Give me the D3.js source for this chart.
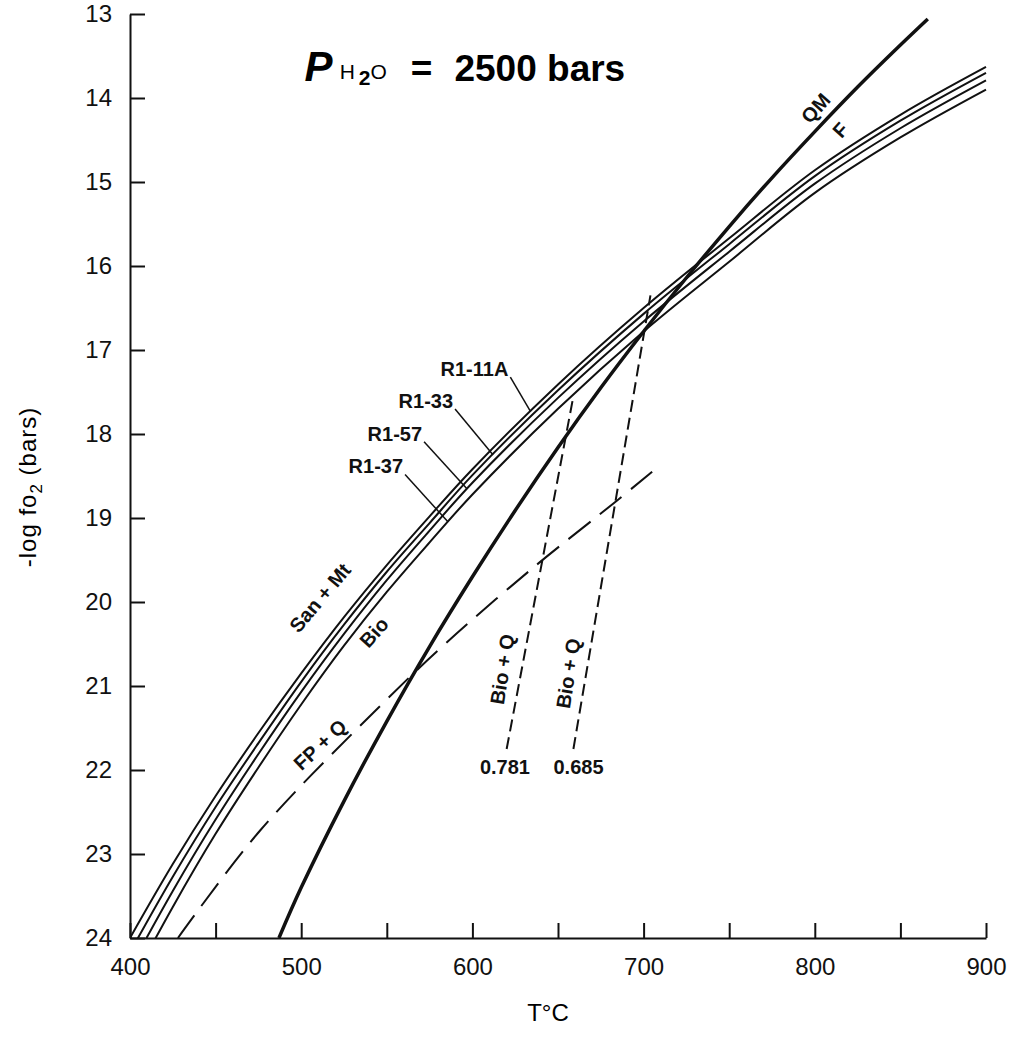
<!DOCTYPE html>
<html>
<head>
<meta charset="utf-8">
<script src="https://cdn.jsdelivr.net/npm/d3@7"></script>
<style>
  body { margin: 0; background: #fff; }
  svg { display: block; font-family: "Liberation Sans", Arial, sans-serif; }
  .axis path, .axis line { stroke: #111; stroke-width: 2; }
  .axis text { font-size: 24px; fill: #111; }
  .lbl { font-size: 20px; font-weight: bold; fill: #111; }
</style>
</head>
<body>
<svg width="1014" height="1039"></svg>
<script>
// Biotite buffer curves (T in C, -log fO2)
const tempC = [400, 425, 450, 475, 500, 525, 550, 575, 600, 650, 700, 750, 800, 850, 900];
const r1_11A = [24.0, 23.12, 22.31, 21.56, 20.85, 20.18, 19.56, 18.98, 18.42, 17.41, 16.50, 15.67, 14.86, 14.20, 13.63];
const r1_33 = [24.17, 23.27, 22.44, 21.68, 20.95, 20.27, 19.64, 19.06, 18.49, 17.48, 16.57, 15.74, 14.93, 14.27, 13.70];
const r1_57 = [24.36, 23.44, 22.59, 21.81, 21.07, 20.38, 19.74, 19.15, 18.58, 17.57, 16.66, 15.83, 15.02, 14.36, 13.79];
const r1_37 = [24.57, 23.63, 22.76, 21.97, 21.22, 20.52, 19.88, 19.29, 18.72, 17.70, 16.78, 15.95, 15.13, 14.47, 13.90];

// QM-F buffer
const qmfT = [487, 500, 525, 550, 575, 600, 625, 650, 675, 700, 725, 750, 775, 800, 825, 850, 866];
const qmfLog = [24.0, 23.4, 22.37, 21.42, 20.53, 19.7, 18.91, 18.16, 17.45, 16.78, 16.14, 15.53, 14.95, 14.4, 13.87, 13.37, 13.06];

// FP + Q
const fpqT = [428, 476, 546, 584, 635, 684, 705];
const fpqLog = [24.0, 22.72, 21.24, 20.5, 19.6, 18.8, 18.45];

// Bio + Q isopleths
const bio781T = [620, 659];
const bio781Log = [21.75, 17.55];
const bio685T = [659, 704];
const bio685Log = [21.75, 16.35];

const yTicks = [13, 14, 15, 16, 17, 18, 19, 20, 21, 22, 23, 24];
const xTicks = [400, 450, 500, 550, 600, 650, 700, 750, 800, 850, 900];

let svg = d3.select('svg');

let x = d3.scaleLinear().domain([400, 900]).range([130, 986]);
let y = d3.scaleLinear().domain([13, 24]).range([14, 938]);

svg.append('defs').append('clipPath')
  .attr('id', 'plot')
  .append('rect')
  .attr('x', x(400)).attr('y', 0)
  .attr('width', x(900) - x(400) + 6)
  .attr('height', y(24));

let line = d3.line()
  .x(d => x(d[0]))
  .y(d => y(d[1]))
  .curve(d3.curveCatmullRom.alpha(0.5));

const zip = (a, b) => a.map((v, i) => [v, b[i]]);

let plot = svg.append('g').attr('clip-path', 'url(#plot)');

// biotite curves
let bioCurves = [r1_11A, r1_33, r1_57, r1_37];
plot.selectAll('.bio')
  .data(bioCurves)
  .enter()
  .append('path')
  .attr('class', 'bio')
  .attr('d', d => line(zip(tempC, d)))
  .attr('fill', 'none')
  .attr('stroke', '#111')
  .attr('stroke-width', 2);

// QM-F
plot.append('path')
  .attr('d', line(zip(qmfT, qmfLog)))
  .attr('fill', 'none')
  .attr('stroke', '#111')
  .attr('stroke-width', 3.5);

// FP + Q
plot.append('path')
  .attr('d', line(zip(fpqT, fpqLog)))
  .attr('fill', 'none')
  .attr('stroke', '#111')
  .attr('stroke-width', 2)
  .attr('stroke-dasharray', '28,12');

// Bio + Q
[[bio781T, bio781Log], [bio685T, bio685Log]].forEach(p => {
  plot.append('path')
    .attr('d', d3.line().x(d => x(d[0])).y(d => y(d[1]))(zip(p[0], p[1])))
    .attr('fill', 'none')
    .attr('stroke', '#111')
    .attr('stroke-width', 2)
    .attr('stroke-dasharray', '12,6');
});

// Axes
svg.append('g')
  .attr('class', 'axis')
  .attr('transform', `translate(${x(400)},0)`)
  .call(d3.axisLeft(y).tickValues(yTicks).tickSize(-15).tickSizeOuter(0).tickPadding(18));

svg.append('g')
  .attr('class', 'axis')
  .attr('transform', `translate(0,${y(24)})`)
  .call(d3.axisBottom(x).tickValues(xTicks).tickSize(-15).tickSizeOuter(0).tickPadding(20)
    .tickFormat(d => d % 100 === 0 ? d : ''));

// Axis titles
svg.append('text')
  .attr('x', 548).attr('y', 1021)
  .attr('text-anchor', 'middle')
  .style('font-size', '24px')
  .text('T°C');

let yt = svg.append('text')
  .attr('transform', 'translate(36,487) rotate(-90)')
  .attr('text-anchor', 'middle')
  .style('font-size', '24px')
  .style('letter-spacing', '1px');
yt.append('tspan').text('-log fo');
yt.append('tspan').attr('dy', 6).style('font-size', '17px').text('2');
yt.append('tspan').attr('dy', -6).text(' (bars)');

// Title
let title = svg.append('text')
  .attr('x', x(502)).attr('y', y(13.8))
  .style('font-weight', 'bold');
title.append('tspan').style('font-size', '42px').style('font-style', 'italic').text('P');
title.append('tspan').attr('dx', 7).attr('dy', -2).style('font-size', '21px').style('font-weight', 'normal').text('H');
title.append('tspan').attr('dx', 4).attr('dy', 6).style('font-size', '21px').text('2');
title.append('tspan').attr('dy', -6).style('font-size', '21px').style('font-weight', 'normal').text('O');
title.append('tspan').attr('dy', 2).attr('dx', 24).style('font-size', '37px').text('=');
title.append('tspan').attr('dx', 22).style('font-size', '37px').text('2500 bars');

// curve labels with leaders
const valueAt = (ts, vs, t) => d3.scaleLinear().domain(ts).range(vs)(t);
let leaders = [
  { name: 'R1-11A', t: 621, v: 17.31, curve: r1_11A, tEnd: 634 },
  { name: 'R1-33', t: 588.7, v: 17.69, curve: r1_33, tEnd: 612 },
  { name: 'R1-57', t: 570.6, v: 18.08, curve: r1_57, tEnd: 596.8 },
  { name: 'R1-37', t: 559.5, v: 18.47, curve: r1_37, tEnd: 585.7 }
];
leaders.forEach(l => {
  svg.append('text')
    .attr('class', 'lbl')
    .attr('x', x(l.t)).attr('y', y(l.v))
    .attr('text-anchor', 'end')
    .text(l.name);
  svg.append('line')
    .attr('x1', x(l.t) + 2).attr('y1', y(l.v) + 1)
    .attr('x2', x(l.tEnd)).attr('y2', y(valueAt(tempC, l.curve, l.tEnd)))
    .attr('stroke', '#111')
    .attr('stroke-width', 1.5);
});

// rotated labels
let rotLabels = [
  { text: 'San + Mt', t: 511, v: 19.95, a: -50 },
  { text: 'Bio', t: 542.5, v: 20.36, a: -48 },
  { text: 'FP + Q', t: 511, v: 21.7, a: -43 },
  { text: 'Bio + Q', t: 617.5, v: 20.8, a: -81 },
  { text: 'Bio + Q', t: 656, v: 20.85, a: -81 },
  { text: 'QM', t: 800.5, v: 14.12, a: -48 },
  { text: 'F', t: 815, v: 14.38, a: -48 }
];
rotLabels.forEach(l => {
  svg.append('text')
    .attr('class', 'lbl')
    .attr('text-anchor', 'middle')
    .attr('dy', '0.35em')
    .attr('transform', `translate(${x(l.t)},${y(l.v)}) rotate(${l.a})`)
    .text(l.text);
});

// isopleth values
[[619, '0.781'], [662, '0.685']].forEach(d => {
  svg.append('text')
    .attr('class', 'lbl')
    .attr('x', x(d[0])).attr('y', y(22.05))
    .attr('text-anchor', 'middle')
    .text(d[1]);
});
</script>
</body>
</html>
